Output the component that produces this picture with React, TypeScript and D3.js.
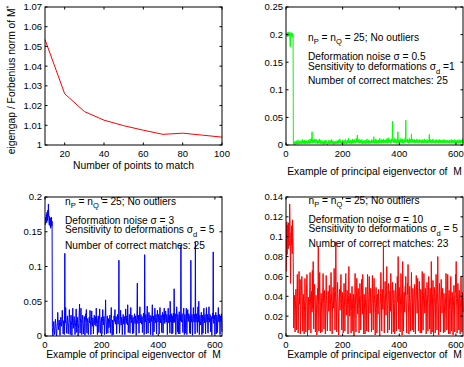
import React from 'react';
import * as d3 from 'd3';

const FONT = '"Liberation Sans", Arial, Helvetica, sans-serif';

// ---------- Panel 1: eigengap ratio vs number of points ----------
const pointsToMatch = [10, 20, 30, 40, 50, 60, 70, 80, 90, 100];
const eigengapRatio = [1.0535, 1.026, 1.017, 1.0126, 1.0098, 1.0075, 1.0054, 1.006, 1.005, 1.004];
const xTicksPoints = [20, 40, 60, 80, 100];
const yTicksRatio = [1, 1.01, 1.02, 1.03, 1.04, 1.05, 1.06, 1.07];

// ---------- Eigenvector panels ----------
const xTicksIndex = [0, 200, 400, 600];
const yTicksGreen = [0, 0.05, 0.1, 0.15, 0.2, 0.25];
const yTicksBlue = [0, 0.05, 0.1, 0.15, 0.2];
const yTicksRed = [0, 0.02, 0.04, 0.06, 0.08, 0.1, 0.12, 0.14];

const eigGreen = [
  .200,.198,.203,.201,.196,.204,.199,.202,.197,.205,.200,.198,.203,.190,.178,.195,.204,.199,.201,.197,.203,.200,.196,.202,.199,
  .002,.001,.004,.003,.006,.002,.000,.005,.003,.007,.004,.002,.008,.003,.005,.001,.006,.009,.004,.002,.005,.003,.007,.002,.004,
  .006,.003,.008,.004,.002,.007,.005,.010,.003,.006,.004,.008,.002,.005,.009,.003,.006,.002,.007,.004,.005,.008,.003,.006,.002,
  .005,.007,.003,.009,.004,.006,.002,.008,.005,.011,.004,.006,.003,.009,.012,.007,.024,.005,.008,.003,.010,.006,.004,.009,.005,
  .007,.011,.004,.008,.003,.009,.006,.010,.005,.002,.007,.004,.009,.006,.003,.008,.005,.011,.004,.007,.002,.006,.009,.003,.005,
  .004,.008,.002,.006,.003,.007,.001,.005,.002,.004,.008,.003,.006,.002,.005,.009,.003,.007,.004,.002,.000,.003,.005,.002,.006,
  .004,.009,.003,.006,.002,.008,.005,.003,.007,.004,.010,.005,.002,.006,.003,.008,.004,.001,.005,.003,.006,.002,.004,.007,.003,
  .005,.002,.006,.003,.008,.004,.006,.002,.005,.009,.003,.007,.004,.006,.011,.005,.003,.008,.004,.006,.002,.005,.007,.003,.009,
  .004,.006,.003,.008,.005,.002,.007,.004,.010,.006,.003,.008,.005,.002,.006,.004,.009,.003,.007,.005,.012,.004,.006,.003,.008,
  .005,.007,.003,.009,.004,.006,.002,.008,.005,.011,.004,.007,.003,.009,.006,.004,.010,.005,.003,.008,.006,.004,.012,.005,.007,
  .010,.018,.006,.009,.004,.008,.005,.011,.003,.007,.006,.004,.009,.005,.008,.003,.006,.010,.004,.007,.002,.005,.008,.003,.006,
  .004,.007,.003,.009,.005,.006,.002,.008,.004,.006,.011,.005,.003,.007,.004,.009,.006,.002,.005,.008,.004,.007,.003,.006,.005,
  .008,.004,.010,.006,.003,.007,.005,.009,.004,.015,.006,.003,.008,.005,.007,.004,.011,.006,.003,.009,.005,.007,.004,.008,.006,
  .003,.009,.005,.007,.004,.012,.006,.008,.004,.007,.005,.010,.003,.006,.009,.004,.007,.005,.011,.006,.003,.008,.005,.009,.004,
  .007,.006,.010,.004,.008,.005,.012,.006,.003,.009,.005,.007,.013,.004,.008,.006,.010,.005,.007,.003,.009,.006,.011,.005,.008,
  .043,.010,.006,.009,.004,.008,.012,.005,.007,.004,.009,.006,.011,.005,.008,.003,.007,.010,.005,.024,.008,.006,.004,.009,.005,
  .007,.010,.004,.008,.006,.012,.005,.009,.004,.007,.011,.006,.003,.008,.005,.010,.007,.004,.009,.006,.013,.008,.045,.010,.006,
  .009,.005,.008,.004,.011,.006,.007,.003,.009,.005,.012,.007,.004,.008,.006,.010,.005,.020,.007,.004,.009,.006,.011,.005,.008,
  .004,.007,.010,.005,.008,.003,.009,.006,.004,.008,.005,.011,.006,.007,.004,.009,.005,.008,.006,.003,.010,.007,.004,.009,.006,
  .008,.005,.007,.003,.009,.006,.004,.010,.005,.008,.006,.003,.007,.011,.005,.009,.004,.006,.008,.005,.007,.003,.010,.006,.004,
  .008,.005,.007,.009,.004,.019,.006,.008,.005,.010,.004,.007,.006,.009,.003,.008,.005,.007,.011,.004,.006,.009,.005,.007,.004,
  .008,.006,.003,.009,.005,.010,.007,.004,.008,.006,.005,.009,.003,.007,.006,.010,.004,.008,.005,.007,.009,.003,.006,.008,.005,
  .007,.004,.009,.006,.003,.008,.005,.010,.006,.004,.007,.009,.005,.003,.008,.006,.004,.007,.009,.005,.006,.003,.008,.005,.007,
  .004,.009,.006,.003,.007,.005,.008,.004,.010,.006,.003,.007,.005,.009,.004,.006,.008,.003,.007,.005,.010,.004,.006,.008,.005,
  .007,.003,.006,.009,.004,.008,.005,.007,.003,.006,.010,.004,.008,.005,.007,.003,.009,.006,.004,.008,.005,.007,.011,.004,.006,
];

const eigBlue = [
  .160,.165,.171,.168,.175,.163,.178,.170,.166,.181,.172,.190,.176,.168,.160,.172,.165,.158,.170,.155,.167,.162,.171,.158,.165,
  .012,.004,.000,.008,.015,.021,.013,.006,.002,.009,.017,.024,.018,.011,.004,.000,.007,.014,.020,.034,.022,.015,.009,.016,.023,
  .019,.012,.001,.013,.021,.027,.020,.014,.018,.025,.037,.024,.017,.003,.016,.022,.015,.002,.014,.119,.026,.019,.041,.022,.015,
  .004,.016,.023,.029,.021,.014,.003,.013,.019,.026,.038,.025,.018,.002,.017,.024,.030,.022,.015,.001,.014,.020,.040,.018,.011,
  .016,.023,.028,.020,.013,.002,.012,.019,.025,.039,.024,.005,.021,.027,.019,.012,.000,.011,.018,.026,.034,.046,.022,.004,.020,
  .027,.040,.025,.018,.002,.017,.024,.030,.022,.015,.003,.014,.021,.028,.020,.001,.019,.026,.032,.024,.038,.020,.004,.018,.025,
  .021,.014,.002,.013,.020,.027,.019,.025,.037,.023,.016,.002,.015,.022,.036,.021,.014,.019,.026,.018,.003,.017,.024,.030,.022,
  .016,.021,.028,.020,.014,.040,.019,.025,.018,.002,.017,.023,.029,.022,.005,.020,.026,.039,.024,.017,.004,.016,.022,.027,.020,
  .003,.018,.025,.038,.023,.016,.021,.028,.020,.002,.019,.026,.033,.052,.024,.017,.003,.016,.023,.029,.021,.004,.019,.025,.018,
  .012,.017,.024,.030,.022,.004,.021,.027,.041,.025,.018,.001,.017,.023,.016,.002,.015,.022,.029,.021,.026,.038,.024,.017,.022,
  .028,.020,.003,.019,.025,.031,.023,.017,.022,.029,.109,.024,.004,.012,.018,.024,.037,.022,.016,.021,.027,.019,.002,.018,.025,
  .031,.023,.017,.022,.028,.021,.002,.020,.026,.039,.025,.018,.023,.029,.022,.016,.045,.024,.005,.013,.019,.025,.031,.023,.004,
  .022,.028,.041,.026,.019,.024,.030,.022,.003,.021,.027,.020,.004,.019,.025,.032,.024,.018,.023,.029,.021,.001,.020,.026,.038,
  .076,.024,.018,.023,.030,.022,.004,.021,.027,.042,.026,.019,.024,.031,.023,.017,.022,.028,.005,.015,.020,.026,.033,.025,.002,
  .024,.117,.027,.020,.025,.031,.023,.003,.022,.029,.043,.027,.020,.004,.021,.027,.034,.025,.019,.024,.030,.022,.002,.021,.028,
  .021,.026,.033,.045,.024,.001,.023,.029,.022,.006,.021,.027,.040,.026,.019,.024,.031,.023,.003,.022,.028,.037,.027,.020,.025,
  .031,.023,.003,.022,.029,.041,.026,.019,.024,.030,.022,.005,.021,.027,.034,.025,.004,.024,.031,.023,.040,.025,.018,.023,.029,
  .036,.027,.020,.025,.031,.023,.002,.022,.028,.040,.026,.019,.024,.030,.022,.004,.050,.026,.020,.025,.032,.024,.003,.023,.029,
  .004,.026,.033,.025,.019,.068,.027,.020,.025,.032,.024,.002,.023,.029,.042,.027,.020,.006,.031,.023,.003,.022,.028,.035,.026,
  .003,.024,.030,.022,.130,.027,.020,.025,.032,.024,.018,.005,.029,.036,.040,.027,.002,.025,.031,.023,.004,.022,.028,.040,.026,
  .002,.024,.030,.038,.028,.021,.026,.032,.024,.018,.004,.029,.022,.003,.109,.027,.020,.025,.031,.023,.001,.022,.028,.041,.026,
  .020,.025,.031,.023,.003,.135,.026,.020,.025,.032,.024,.018,.005,.029,.042,.027,.020,.050,.026,.002,.024,.030,.022,.016,.021,
  .027,.034,.025,.002,.024,.030,.022,.004,.021,.028,.040,.026,.019,.024,.031,.023,.003,.022,.028,.041,.026,.020,.025,.031,.005,
  .004,.022,.029,.042,.027,.020,.025,.031,.023,.006,.022,.028,.021,.001,.020,.026,.033,.025,.121,.024,.018,.023,.030,.022,.003,
  .021,.027,.034,.026,.003,.024,.030,.022,.005,.021,.028,.041,.026,.020,.025,.031,.023,.002,.022,.029,.021,.026,.032,.024,.006,
];

const eigRed = [
  .065,.098,.115,.082,.108,.112,.095,.088,.114,.102,.091,.110,.133,.120,.097,.053,.086,.104,.092,.111,.099,.083,.117,.106,.094,
  .060,.008,.018,.030,.041,.027,.004,.024,.036,.047,.033,.006,.031,.044,.062,.040,.026,.003,.025,.038,.065,.046,.032,.043,.057,
  .002,.013,.027,.040,.052,.060,.045,.031,.005,.030,.042,.035,.023,.002,.024,.037,.058,.038,.026,.004,.029,.041,.053,.062,.044,
  .000,.015,.028,.039,.030,.006,.026,.038,.049,.064,.043,.031,.003,.033,.045,.036,.024,.066,.040,.028,.075,.035,.007,.034,.046,
  .052,.039,.027,.004,.029,.041,.034,.021,.001,.023,.036,.048,.040,.090,.032,.005,.031,.044,.064,.042,.029,.003,.030,.043,.035,
  .024,.004,.027,.039,.050,.063,.046,.033,.007,.034,.046,.038,.025,.002,.026,.040,.061,.041,.029,.017,.005,.020,.033,.045,.037,
  .025,.038,.051,.042,.030,.005,.032,.044,.064,.047,.034,.022,.002,.024,.037,.049,.040,.028,.036,.068,.045,.031,.006,.033,.046,
  .095,.040,.028,.004,.029,.042,.054,.043,.031,.020,.001,.022,.035,.047,.038,.026,.039,.051,.062,.047,.033,.006,.032,.044,.036,
  .024,.003,.027,.040,.053,.041,.029,.005,.030,.043,.063,.044,.032,.021,.034,.046,.038,.026,.002,.028,.041,.070,.045,.032,.020,
  .031,.043,.035,.023,.003,.025,.038,.050,.040,.028,.005,.029,.042,.033,.000,.018,.031,.044,.063,.043,.030,.004,.032,.045,.058,
  .046,.034,.022,.035,.048,.039,.027,.003,.028,.041,.053,.042,.030,.006,.032,.044,.057,.045,.033,.022,.062,.040,.028,.002,.030,
  .042,.034,.022,.002,.024,.037,.049,.040,.028,.005,.029,.042,.062,.044,.032,.004,.033,.046,.060,.046,.034,.023,.035,.048,.039,
  .027,.004,.029,.041,.061,.042,.030,.006,.031,.044,.058,.045,.033,.022,.001,.024,.037,.049,.040,.028,.003,.029,.042,.034,.022,
  .035,.047,.038,.026,.015,.000,.019,.032,.044,.064,.045,.033,.005,.034,.047,.039,.027,.040,.090,.041,.029,.003,.031,.043,.055,
  .044,.032,.021,.034,.046,.070,.039,.027,.003,.029,.041,.053,.042,.030,.006,.032,.045,.037,.025,.063,.040,.028,.002,.030,.042,
  .054,.043,.031,.004,.033,.046,.038,.026,.002,.028,.041,.053,.044,.032,.005,.034,.047,.060,.046,.034,.080,.036,.007,.037,.049,
  .040,.028,.004,.030,.043,.063,.044,.032,.021,.001,.023,.075,.041,.029,.005,.031,.044,.036,.024,.037,.050,.041,.060,.038,.026,
  .003,.028,.041,.053,.042,.072,.035,.023,.002,.025,.038,.050,.039,.027,.005,.029,.042,.064,.045,.033,.006,.035,.048,.038,.026,
  .004,.027,.040,.052,.041,.030,.002,.032,.045,.061,.046,.034,.023,.036,.058,.040,.028,.005,.030,.043,.055,.044,.032,.003,.034,
  .047,.038,.026,.003,.028,.065,.041,.029,.006,.031,.044,.063,.046,.034,.023,.036,.048,.039,.027,.002,.029,.042,.054,.043,.031,
  .005,.033,.046,.060,.045,.033,.007,.035,.048,.039,.027,.002,.075,.041,.029,.004,.031,.044,.056,.042,.000,.024,.037,.049,.040,
  .028,.003,.030,.043,.062,.044,.032,.006,.034,.046,.080,.039,.027,.001,.028,.041,.053,.042,.030,.004,.032,.045,.057,.046,.034,
  .023,.036,.048,.040,.028,.003,.030,.043,.035,.023,.004,.018,.031,.044,.063,.045,.033,.006,.035,.047,.062,.044,.032,.002,.034,
  .046,.038,.026,.002,.027,.040,.060,.042,.030,.005,.032,.044,.036,.024,.001,.026,.039,.051,.042,.030,.004,.031,.043,.062,.044,
  .075,.038,.027,.003,.029,.041,.053,.043,.031,.006,.033,.046,.038,.026,.002,.028,.040,.060,.042,.030,.004,.032,.044,.036,.024,
];

const fmt = (v: number) => String(+v.toFixed(3));

type PanelProps = {
  left: number; top: number; width: number; height: number;
  xDomain: [number, number]; yDomain: [number, number];
  xTicks: number[]; yTicks: number[];
  xs: number[]; ys: number[];
  color: string;
  xLabel: string; xLabelY: number;
  children?: React.ReactNode;
};

function Panel(p: PanelProps) {
  const x = d3.scaleLinear().domain(p.xDomain).range([p.left, p.left + p.width]);
  const y = d3.scaleLinear().domain(p.yDomain).range([p.top + p.height, p.top]);
  const pts: [number, number][] = p.ys.map((v, i) => [p.xs[i], v]);
  const line = d3.line<[number, number]>().x(d => x(d[0])).y(d => y(d[1]));
  const tl = 2.5;
  const bottom = p.top + p.height;
  const right = p.left + p.width;
  return (
    <g>
      <path d={line(pts) || ''} fill="none" stroke={p.color} strokeWidth={1} />
      <rect x={p.left} y={p.top} width={p.width} height={p.height} fill="none" stroke="#000" strokeWidth={1} />
      {p.xTicks.map(t => (
        <g key={'x' + t}>
          <line x1={x(t)} x2={x(t)} y1={bottom} y2={bottom - tl} stroke="#000" />
          <line x1={x(t)} x2={x(t)} y1={p.top} y2={p.top + tl} stroke="#000" />
          <text x={x(t)} y={bottom + 11.5} textAnchor="middle" fontSize={9.5}>{fmt(t)}</text>
        </g>
      ))}
      {p.yTicks.map(t => (
        <g key={'y' + t}>
          <line x1={p.left} x2={p.left + tl} y1={y(t)} y2={y(t)} stroke="#000" />
          <line x1={right} x2={right - tl} y1={y(t)} y2={y(t)} stroke="#000" />
          <text x={p.left - 3} y={y(t) + 3.4} textAnchor="end" fontSize={9.5}>{fmt(t)}</text>
        </g>
      ))}
      <text x={p.left + p.width / 2} y={p.xLabelY} textAnchor="middle" fontSize={10.3} style={{ whiteSpace: 'pre' }}>{p.xLabel}</text>
      {p.children}
    </g>
  );
}

function Notes({ x, ys, noise, sens, correct }: { x: number; ys: number[]; noise: string; sens: string; correct: number }) {
  const sub = 7.5;
  return (
    <g fontSize={10.2}>
      <text x={x} y={ys[0]}>
        n<tspan fontSize={sub} dy={3}>P</tspan><tspan dy={-3}> = n</tspan><tspan fontSize={sub} dy={3}>Q</tspan><tspan dy={-3}> = 25; No outliers</tspan>
      </text>
      <text x={x} y={ys[1]}>{'Deformation noise \u03c3 = ' + noise}</text>
      <text x={x} y={ys[2]}>
        Sensitivity to deformations {'\u03c3'}<tspan fontSize={sub} dy={4}>d</tspan><tspan dy={-4}>{sens}</tspan>
      </text>
      <text x={x} y={ys[3]}>{'Number of correct matches: ' + correct}</text>
    </g>
  );
}

export default function App() {
  const idxG = eigGreen.map((_, i) => i + 1);
  const idxB = eigBlue.map((_, i) => i + 1);
  const idxR = eigRed.map((_, i) => i + 1);
  return (
    <svg width={464} height={367} style={{ position: 'absolute', left: 0, top: 0, background: '#fff' }} fontFamily={FONT}>
      <Panel left={45} top={7} width={177} height={138} xDomain={[10, 100]} yDomain={[1, 1.07]}
        xTicks={xTicksPoints} yTicks={yTicksRatio} xs={pointsToMatch} ys={eigengapRatio} color="#ff0000"
        xLabel="Number of points to match" xLabelY={169} />
      <text transform="translate(15,80) rotate(-90)" textAnchor="middle" fontSize={10.3}>
        eigengap / Forbenius norm of M<tspan fontSize={7} dy={-4}>*</tspan>
      </text>

      <Panel left={286} top={7} width={177} height={138} xDomain={[0, 625]} yDomain={[0, 0.25]}
        xTicks={xTicksIndex} yTicks={yTicksGreen} xs={idxG} ys={eigGreen} color="#00ff00"
        xLabel="Example of principal eigenvector of  M" xLabelY={175}>
        <Notes x={308} ys={[41, 60, 69.5, 84]} noise="0.5" sens=" =1" correct={25} />
      </Panel>

      <Panel left={45} top={197} width={177} height={139} xDomain={[0, 625]} yDomain={[0, 0.2]}
        xTicks={xTicksIndex} yTicks={yTicksBlue} xs={idxB} ys={eigBlue} color="#0000ff"
        xLabel="Example of principal eigenvector of  M" xLabelY={357.5}>
        <Notes x={65} ys={[204.5, 223.5, 232.5, 248.5]} noise="3" sens=" = 5" correct={25} />
      </Panel>

      <Panel left={286} top={197} width={177} height={139} xDomain={[0, 625]} yDomain={[0, 0.14]}
        xTicks={xTicksIndex} yTicks={yTicksRed} xs={idxR} ys={eigRed} color="#ff0000"
        xLabel="Example of principal eigenvector of  M" xLabelY={357.5}>
        <Notes x={308.5} ys={[204, 222.5, 231.5, 247]} noise="10" sens=" = 5" correct={23} />
      </Panel>
    </svg>
  );
}
